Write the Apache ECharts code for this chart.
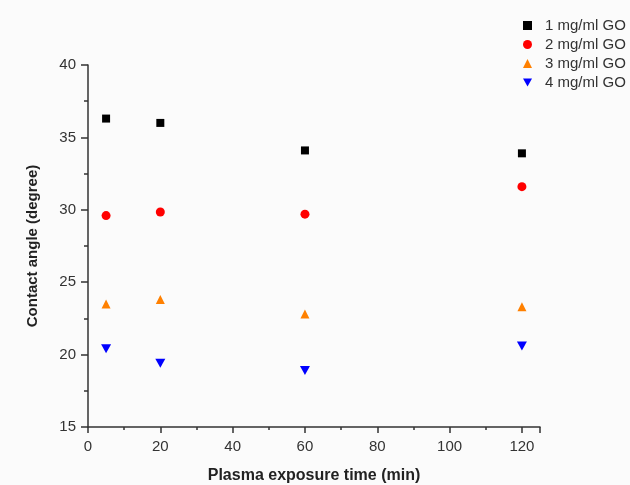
<!DOCTYPE html>
<html>
<head>
<meta charset="utf-8">
<script src="https://cdn.jsdelivr.net/npm/echarts@6/dist/echarts.min.js"></script>
<style>
	html, body { margin: 0; padding: 0; background: #fbfbfb; }
	#main { width: 630px; height: 485px; }
</style>
</head>
<body>
<div id="main"></div>
<script>
// exposure times (min) and contact angles (degree)
var times = [5, 20, 60, 120];
var go1 = [36.3, 36.0, 34.1, 33.9];
var go2 = [29.6, 29.85, 29.7, 31.6];
var go3 = [23.5, 23.8, 22.8, 23.3];
var go4 = [20.4, 19.4, 18.9, 20.6];
var seriesNames = ['1 mg/ml GO', '2 mg/ml GO', '3 mg/ml GO', '4 mg/ml GO'];

function pairs(values) {
	return times.map(function(t, i) {
		return [t, values[i]];
	});
}

function display() {
	var myChart = echarts.init(document.getElementById('main'));
	var axisColor = '#333';
	var font = 'Arial, Liberation Sans, sans-serif';

	var option = {
		backgroundColor: '#fbfbfb',
		textStyle: { fontFamily: font, color: '#333' },
		legend: {
			orient: 'vertical',
			left: 518,
			top: 13,
			itemGap: 4,
			itemWidth: 9,
			itemHeight: 9,
			textStyle: { fontSize: 15, color: '#333', fontFamily: font, padding: [0, 0, 0, 8] },
			data: seriesNames
		},
		grid: { left: 88, right: 90, top: 65, bottom: 58, outerBoundsMode: 'none' },
		xAxis: {
			type: 'value',
			min: 0,
			max: 125,
			interval: 20,
			name: 'Plasma exposure time (min)',
			nameLocation: 'middle',
			nameGap: 41,
			nameTextStyle: { fontSize: 16, fontWeight: 'bold', color: '#222' },
			axisLine: { show: true, lineStyle: { color: axisColor, width: 1.5 } },
			axisTick: { show: true, length: 6, lineStyle: { color: axisColor, width: 1.5 } },
			minorTick: { show: true, splitNumber: 2, length: 3, lineStyle: { color: axisColor, width: 1.5 } },
			axisLabel: { fontSize: 15, color: '#333', margin: 12, showMaxLabel: false },
			splitLine: { show: false }
		},
		yAxis: {
			type: 'value',
			min: 15,
			max: 40,
			interval: 5,
			name: 'Contact angle (degree)',
			nameLocation: 'middle',
			nameGap: 48,
			nameTextStyle: { fontSize: 15, fontWeight: 'bold', color: '#222' },
			axisLine: { show: true, lineStyle: { color: axisColor, width: 1.5 } },
			axisTick: { show: true, length: 7, lineStyle: { color: axisColor, width: 1.5 } },
			minorTick: { show: true, splitNumber: 2, length: 4, lineStyle: { color: axisColor, width: 1.5 } },
			axisLabel: { fontSize: 15, color: '#333', margin: 12 },
			splitLine: { show: false }
		},
		series: [
			{
				name: seriesNames[0],
				type: 'scatter',
				symbol: 'rect',
				symbolSize: 8,
				itemStyle: { color: '#000', opacity: 1 },
				data: pairs(go1)
			},
			{
				name: seriesNames[1],
				type: 'scatter',
				symbol: 'circle',
				symbolSize: 9,
				itemStyle: { color: '#ff0000', opacity: 1 },
				data: pairs(go2)
			},
			{
				name: seriesNames[2],
				type: 'scatter',
				symbol: 'triangle',
				symbolSize: 9,
				itemStyle: { color: '#ff8000', opacity: 1 },
				data: pairs(go3)
			},
			{
				name: seriesNames[3],
				type: 'scatter',
				symbol: 'path://M0,0 L10,0 L5,9 Z',
				symbolSize: [10, 9],
				itemStyle: { color: '#0000ff', opacity: 1 },
				data: pairs(go4)
			}
		]
	};

	myChart.setOption(option);
}

display();
</script>
</body>
</html>
